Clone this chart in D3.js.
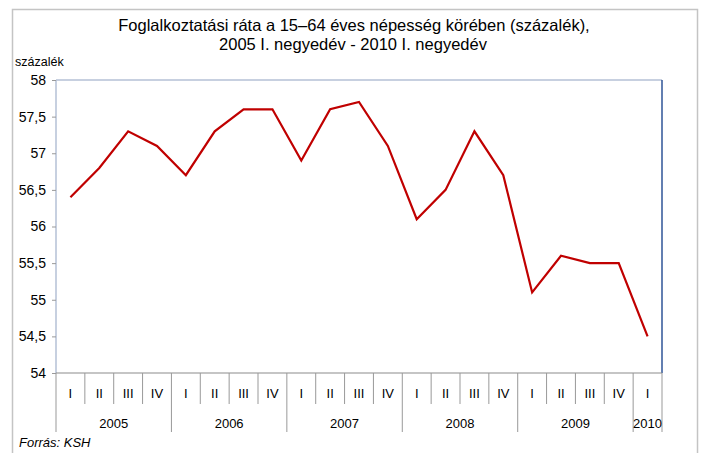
<!DOCTYPE html>
<html>
<head>
<meta charset="utf-8">
<script src="https://cdn.jsdelivr.net/npm/d3@7"></script>
<style>
  body { margin: 0; background: #fff; }
  text { font-family: "Liberation Sans", Arial, sans-serif; fill: #000; }
</style>
</head>
<body>
<svg width="702" height="453"></svg>
<script>
// data
var years = ["2005", "2006", "2007", "2008", "2009", "2010"];
var quarters = ["I", "II", "III", "IV"];
var rate = [56.4, 56.8, 57.3, 57.1,
            56.7, 57.3, 57.6, 57.6,
            56.9, 57.6, 57.7, 57.1,
            56.1, 56.5, 57.3, 56.7,
            55.1, 55.6, 55.5, 55.5,
            54.5];
var yTicks = [54, 54.5, 55, 55.5, 56, 56.5, 57, 57.5, 58];

var svg = d3.select("svg");

// build the period list (year + quarter) from the arrays above
var periods = rate.map(function (v, i) {
    return { key: i, year: years[Math.floor(i / 4)], q: quarters[i % 4], value: v };
});

// plot area (don't call it "top", window.top is read only)
var pLeft = 56, pRight = 662, pTop = 80, pBottom = 373;

var x = d3.scaleBand().domain(periods.map(d => d.key)).range([pLeft, pRight]);
var y = d3.scaleLinear().domain([54, 58]).range([pBottom, pTop]);

// outer frame
svg.append("rect")
    .attr("x", 12.5).attr("y", 9.5)
    .attr("width", 685).attr("height", 460)
    .attr("fill", "none")
    .attr("stroke", "#c4c4c4")
    .attr("stroke-width", 1.5);

// title
var title = svg.append("text")
    .attr("text-anchor", "middle")
    .style("font-size", "16.5px");
title.append("tspan").attr("x", 354).attr("y", 31)
    .text("Foglalkoztatási ráta a 15–64 éves népesség körében (százalék),");
title.append("tspan").attr("x", 353).attr("y", 50)
    .text("2005 I. negyedév - 2010 I. negyedév");

svg.append("text")
    .attr("x", 15).attr("y", 66)
    .style("font-size", "12.5px")
    .text("százalék");

// plot frame: top + left light, right dark blue
svg.append("line").attr("x1", pLeft).attr("x2", pRight).attr("y1", pTop).attr("y2", pTop)
    .attr("stroke", "#b4c0d6").attr("stroke-width", 1.5);
svg.append("line").attr("x1", pLeft).attr("x2", pLeft).attr("y1", pTop).attr("y2", pBottom)
    .attr("stroke", "#b4c0d6").attr("stroke-width", 1.5);
svg.append("line").attr("x1", pRight).attr("x2", pRight).attr("y1", pTop).attr("y2", pBottom)
    .attr("stroke", "#2f5597").attr("stroke-width", 1.5);

// y axis
var yAxis = svg.append("g")
    .attr("transform", "translate(" + pLeft + ",0)")
    .call(d3.axisLeft(y).tickValues(yTicks).tickSize(4).tickPadding(6)
        .tickFormat(d => d3.format(".1~f")(d).replace(".", ",")));
yAxis.select(".domain").remove();
yAxis.selectAll("line").attr("stroke", "#999");
yAxis.selectAll("text").style("font-size", "14px").attr("fill", "#000")
    .style("font-family", "'Liberation Sans', Arial, sans-serif");

// x axis: quarter ticks
var xg = svg.append("g");
xg.append("line").attr("x1", pLeft).attr("x2", pRight).attr("y1", pBottom).attr("y2", pBottom)
    .attr("stroke", "#8c8c8c").attr("stroke-width", 1.2);

xg.selectAll(".qline")
    .data(periods)
    .enter().append("line")
    .attr("class", "qline")
    .attr("x1", d => x(d.key)).attr("x2", d => x(d.key))
    .attr("y1", pBottom)
    .attr("y2", d => d.q === "I" ? 432 : 404)
    .attr("stroke", "#999");

xg.append("line")
    .attr("x1", pRight).attr("x2", pRight).attr("y1", pBottom).attr("y2", 432)
    .attr("stroke", "#999");

xg.selectAll(".qlab")
    .data(periods)
    .enter().append("text")
    .attr("class", "qlab")
    .attr("x", d => x(d.key) + x.bandwidth() / 2)
    .attr("y", 398)
    .attr("text-anchor", "middle")
    .style("font-size", "13px")
    .text(d => d.q);

xg.selectAll(".ylab")
    .data(years)
    .enter().append("text")
    .attr("class", "ylab")
    .attr("x", function (d, i) {
        var ks = periods.filter(p => p.year === d).map(p => p.key);
        return (x(ks[0]) + x(ks[ks.length - 1]) + x.bandwidth()) / 2;
    })
    .attr("y", 428)
    .attr("text-anchor", "middle")
    .style("font-size", "13px")
    .text(d => d);

// the line
var line = d3.line()
    .x(d => x(d.key) + x.bandwidth() / 2)
    .y(d => y(d.value));

svg.append("path")
    .datum(periods)
    .attr("d", line)
    .attr("fill", "none")
    .attr("stroke", "#c00000")
    .attr("stroke-width", 2.2)
    .attr("stroke-linejoin", "miter");

svg.append("text")
    .attr("x", 19).attr("y", 447)
    .style("font-size", "13px")
    .style("font-style", "italic")
    .text("Forrás: KSH");
</script>
</body>
</html>
